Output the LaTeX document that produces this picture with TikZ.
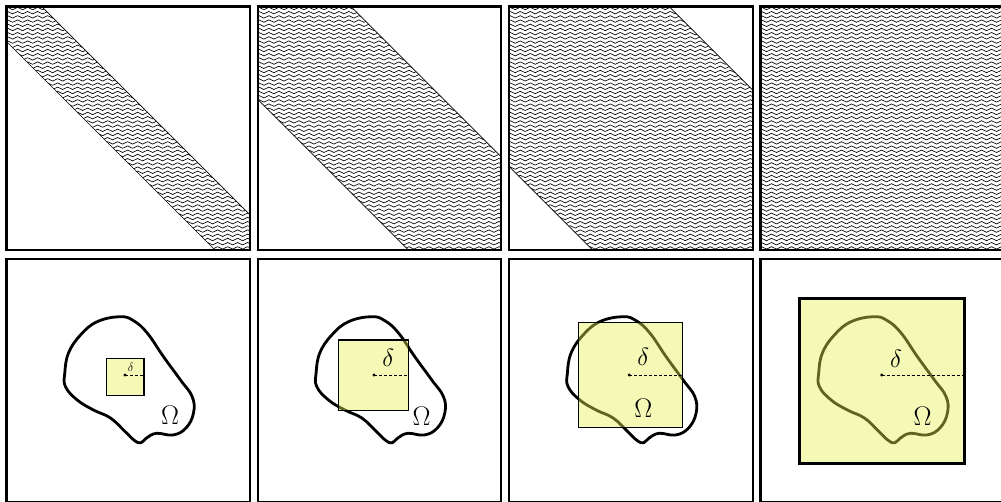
\documentclass[tikz,border=0pt]{standalone}
\usetikzlibrary{decorations.pathmorphing}
\definecolor{sqyellow}{RGB}{228,240,80}
\tikzset{
  panel/.style={draw=black, line width=2.2pt},
  wave/.style={line width=0.65pt, decorate, decoration={snake, segment length=10pt, amplitude=1.2pt}},
  bandedge/.style={line width=0.7pt},
  blob/.style={line width=2.8pt, line join=round},
  sq/.style={fill=sqyellow, fill opacity=0.42, draw=black, line width=1.5pt},
  sqthick/.style={sq, line width=3pt},
  radius line/.style={dashed, dash pattern=on 3pt off 2pt, line width=0.8pt},
  bigsym/.style={inner sep=0pt, font=\Huge},
  omegasym/.style={bigsym, scale=1.08},
  smallsym/.style={inner sep=0pt, font=\large},
  blobpic/.pic={
    \draw[blob] plot[smooth cycle, tension=0.7] coordinates {
      (113.5,57.7) (127,61.7) (140.7,74) (157,97.7) (174,121) (185.7,137.7)
      (187,154) (179.5,169) (166.5,176) (150,174.3) (140,179) (134.5,183.7)
      (128,181.5) (118,172) (104,159) (87,151) (70.7,141) (59,127.7)
      (58.3,114) (62,94) (74,76) (90.7,62.7)};
  }
}
\newcommand\wavelines{%
  \foreach \k in {0,...,58} {\draw[wave] (-12,{2+\k*4.2}) -- (262,{2+\k*4.2});}%
}
\newcommand\wavepanel[2]{%
  \begin{scope}[shift={(#1,6.5)}]
    \begin{scope}
      \clip (0,0) -- (#2,0) -- (243.5,{243.5-#2}) -- (243.5,243.5)
            -- ({243.5-#2},243.5) -- (0,#2) -- cycle;
      \wavelines
    \end{scope}
    \draw[bandedge] (#2,0) -- (243.5,{243.5-#2});
    \draw[bandedge] (0,#2) -- ({243.5-#2},243.5);
    \draw[panel] (0,0) rectangle (243.5,243.5);
  \end{scope}%
}
\begin{document}
\begin{tikzpicture}[x=1pt,y=-1pt]
\useasboundingbox (0,0) rectangle (1001,502);
\clip (0,0) rectangle (1001,502);
% ---- top row ----
\wavepanel{6.5}{35}
\wavepanel{257.8}{93}
\wavepanel{509.1}{160}
\begin{scope}[shift={(760.4,6.5)}]
  \begin{scope}
    \clip (0,0) rectangle (243.5,243.5);
    \wavelines
  \end{scope}
  \draw[panel] (0,0) rectangle (243.5,243.5);
\end{scope}
% ---- bottom row, panel 1 ----
\begin{scope}[shift={(6.5,259)}]
  \pic at (0,0) {blobpic};
  \draw[sq] (100.1,99.3) rectangle (137.5,136.7);
  \coordinate (c1) at (118.5,116);
  \coordinate (e1) at (137.5,116);
  \draw[radius line] (c1) -- (e1);
  \fill (c1) circle (1.6pt);
  \node[smallsym] (d1) at (124.2,108.3) {$\delta$};
  \node[omegasym] (o1) at (163.5,156.8) {$\Omega$};
  \draw[panel] (0,0) rectangle (243.5,243.5);
\end{scope}
% ---- bottom row, panel 2 ----
\begin{scope}[shift={(257.8,259)}]
  \pic at (0,0) {blobpic};
  \draw[sq] (80.5,81) rectangle (150.9,151.7);
  \coordinate (c2) at (116.2,116);
  \coordinate (e2) at (150.9,116);
  \draw[radius line] (c2) -- (e2);
  \fill (c2) circle (1.6pt);
  \node[bigsym] (d2) at (130.5,99.3) {$\delta$};
  \node[omegasym] (o2) at (163.9,157.7) {$\Omega$};
  \draw[panel] (0,0) rectangle (243.5,243.5);
\end{scope}
% ---- bottom row, panel 3 ----
\begin{scope}[shift={(509.1,259)}]
  \pic at (0,0) {blobpic};
  \draw[sq] (69.2,63.3) rectangle (173.6,168.3);
  \coordinate (c3) at (120.2,116);
  \coordinate (e3) at (173.6,116);
  \draw[radius line] (c3) -- (e3);
  \fill (c3) circle (1.6pt);
  \node[bigsym] (d3) at (134.2,98.3) {$\delta$};
  \node[omegasym] (o3) at (134.2,149.3) {$\Omega$};
  \draw[panel] (0,0) rectangle (243.5,243.5);
\end{scope}
% ---- bottom row, panel 4 ----
\begin{scope}[shift={(760.4,259)}]
  \pic at (0,0) {blobpic};
  \draw[sqthick] (39,39.3) rectangle (203.6,204.3);
  \coordinate (c4) at (121.3,116);
  \coordinate (e4) at (203.6,116);
  \draw[radius line] (c4) -- (e4);
  \fill (c4) circle (1.6pt);
  \node[bigsym] (d4) at (135.6,100.3) {$\delta$};
  \node[omegasym] (o4) at (162.3,157.7) {$\Omega$};
  \draw[panel] (0,0) rectangle (243.5,243.5);
\end{scope}
\end{tikzpicture}
\end{document}
